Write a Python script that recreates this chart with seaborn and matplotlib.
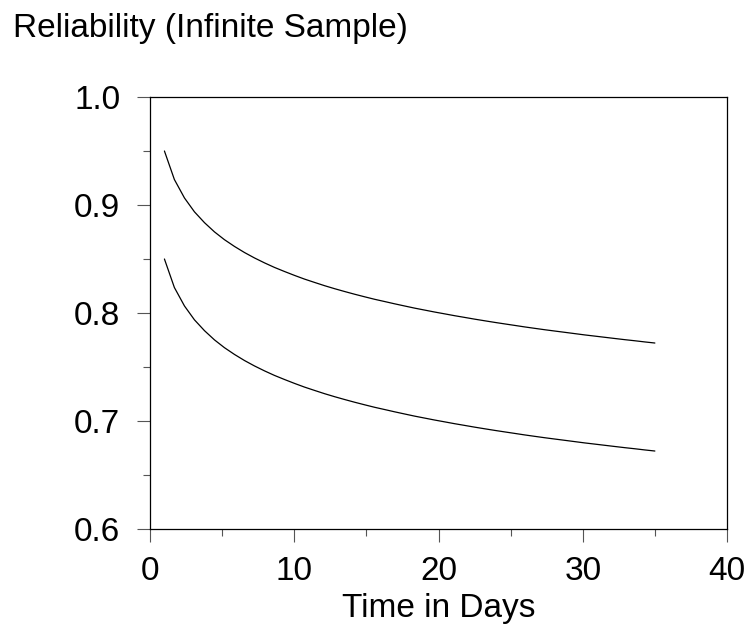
"""
Reliability curves (infinite sample) over time
"""

import numpy as np
import pandas as pd
import matplotlib
matplotlib.use('Agg')
import matplotlib.pyplot as plt
from matplotlib.ticker import MultipleLocator
import seaborn as sns

# Values
days = [1.00, 1.69, 2.39, 3.08, 3.78, 4.47, 5.16, 5.86, 6.55, 7.24,
        7.94, 8.63, 9.33, 10.02, 10.71, 11.41, 12.10, 12.80, 13.49, 14.18,
        14.88, 15.57, 16.27, 16.96, 17.65, 18.35, 19.04, 19.73, 20.43, 21.12,
        21.82, 22.51, 23.20, 23.90, 24.59, 25.29, 25.98, 26.67, 27.37, 28.06,
        28.76, 29.45, 30.14, 30.84, 31.53, 32.22, 32.92, 33.61, 34.31, 35.00]

upper = [0.9500, 0.9236, 0.9065, 0.8937, 0.8836, 0.8751, 0.8679, 0.8616, 0.8560, 0.8510,
         0.8464, 0.8422, 0.8384, 0.8348, 0.8314, 0.8283, 0.8253, 0.8225, 0.8199, 0.8174,
         0.8150, 0.8127, 0.8106, 0.8085, 0.8065, 0.8045, 0.8027, 0.8009, 0.7992, 0.7975,
         0.7959, 0.7943, 0.7928, 0.7913, 0.7899, 0.7885, 0.7871, 0.7858, 0.7845, 0.7833,
         0.7821, 0.7809, 0.7797, 0.7786, 0.7775, 0.7764, 0.7753, 0.7743, 0.7732, 0.7722]

lower = [0.8500, 0.8236, 0.8065, 0.7937, 0.7836, 0.7751, 0.7679, 0.7616, 0.7560, 0.7510,
         0.7464, 0.7422, 0.7384, 0.7348, 0.7314, 0.7283, 0.7253, 0.7225, 0.7199, 0.7174,
         0.7150, 0.7127, 0.7106, 0.7085, 0.7065, 0.7045, 0.7027, 0.7009, 0.6992, 0.6975,
         0.6959, 0.6943, 0.6928, 0.6913, 0.6899, 0.6885, 0.6871, 0.6858, 0.6845, 0.6833,
         0.6821, 0.6809, 0.6797, 0.6786, 0.6775, 0.6764, 0.6753, 0.6743, 0.6732, 0.6722]

df = pd.DataFrame({
    'day': days * 2,
    'reliability': upper + lower,
    'curve': ['upper'] * len(days) + ['lower'] * len(days),
})

sns.set_style('ticks')
plt.rcParams['font.family'] = ['Liberation Sans', 'DejaVu Sans']
plt.rcParams['text.color'] = 'black'
plt.rcParams['axes.labelcolor'] = 'black'

fig = plt.figure(figsize=(7.5, 6.39), dpi=100)
# axes box: x 150..727 px, y 97..529 px
ax = fig.add_axes([150 / 750, 1 - 529 / 639, 577 / 750, 432 / 639])

sns.lineplot(data=df, x='day', y='reliability', units='curve',
             estimator=None, color='black', linewidth=0.9, ax=ax)

ax.set_xlim(0, 40)
ax.set_ylim(0.6, 1.0)
ax.xaxis.set_major_locator(MultipleLocator(10))
ax.xaxis.set_minor_locator(MultipleLocator(5))
ax.yaxis.set_major_locator(MultipleLocator(0.1))
ax.yaxis.set_minor_locator(MultipleLocator(0.05))
ax.yaxis.set_major_formatter(plt.FormatStrFormatter('%.1f'))

for side in ['top', 'right', 'left', 'bottom']:
    ax.spines[side].set_visible(True)
    ax.spines[side].set_color('black')
    ax.spines[side].set_linewidth(0.9)

ax.tick_params(which='major', direction='out', length=9.5, width=0.8,
               color='#555555', labelsize=24, labelcolor='black')
ax.tick_params(which='minor', direction='out', length=5, width=0.8,
               color='#555555')
ax.tick_params(axis='y', which='major', pad=12)
ax.tick_params(axis='x', which='major', pad=10)

ax.set_xlabel('Time in Days', fontsize=24, labelpad=4)
ax.set_ylabel('')

fig.text(13 / 750, 1 - 37 / 639, 'Reliability (Infinite Sample)',
         fontsize=24, ha='left', va='baseline')

fig.savefig('out.png', dpi=100)
